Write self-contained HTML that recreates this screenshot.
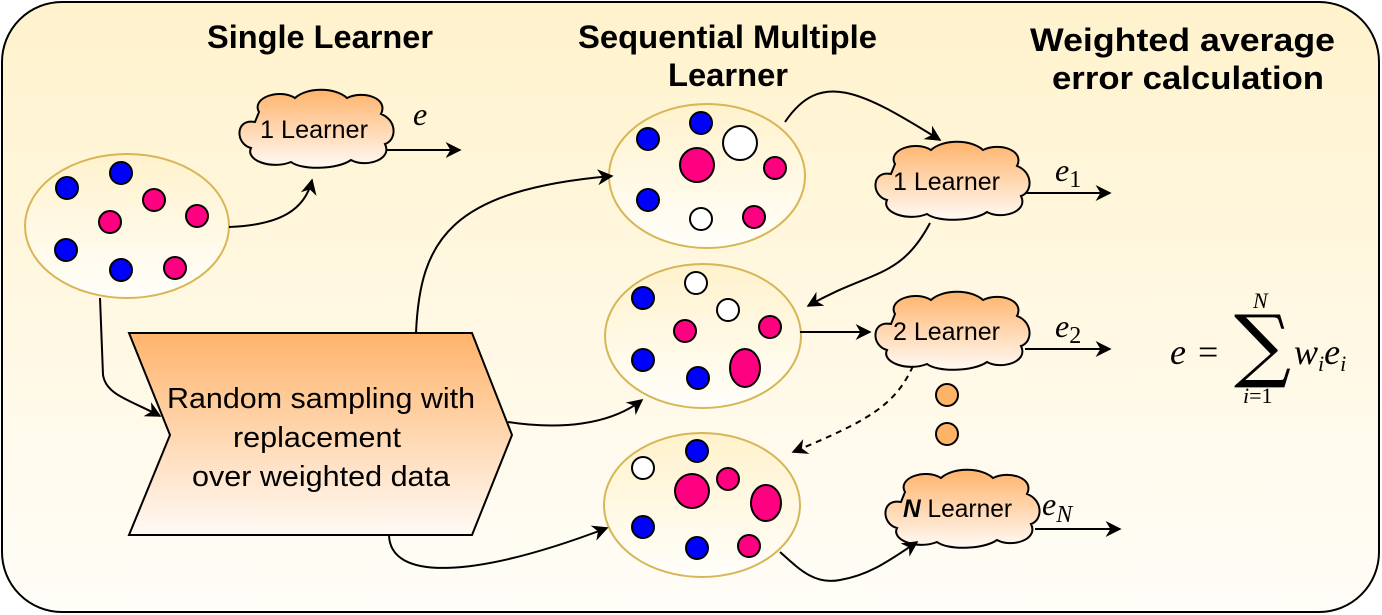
<!DOCTYPE html>
<html><head><meta charset="utf-8"><style>
html,body{margin:0;padding:0;background:#fff;}
svg{display:block;}
.t{font-family:"Liberation Sans",sans-serif;}
.m{font-family:"Liberation Serif",serif;font-style:italic;}
</style></head><body>
<svg width="1382" height="615" viewBox="0 0 1382 615" xmlns="http://www.w3.org/2000/svg">
<defs>
<linearGradient id="bg" x1="0" y1="0" x2="0" y2="1"><stop offset="0" stop-color="#fff2cc"/><stop offset="1" stop-color="#fffdf8"/></linearGradient>
<linearGradient id="el" x1="0" y1="0" x2="0" y2="1"><stop offset="0" stop-color="#fff2cc"/><stop offset="1" stop-color="#fffefa"/></linearGradient>
<linearGradient id="or" x1="0" y1="0" x2="0" y2="1"><stop offset="0" stop-color="#ffb36b"/><stop offset="1" stop-color="#fffaf5"/></linearGradient>
<marker id="ar" viewBox="0 0 10 10" refX="9" refY="5" markerWidth="20" markerHeight="16" markerUnits="userSpaceOnUse" orient="auto"><path d="M0,0 L10,5 L0,10 L3,5 Z" fill="#000"/></marker>
<g id="cloud"><path d="M22,22 C14,8 42,-2 58,8 C70,-3 98,-3 110,8 C126,0 152,8 144,24 C160,30 160,50 148,54 C156,70 128,78 114,70 C100,80 64,80 54,72 C34,80 8,70 14,58 C-2,54 -2,28 18,32 Z" fill="url(#or)" stroke="#000" stroke-width="2"/></g>
</defs>
<rect x="2" y="2" width="1377" height="610" rx="60" fill="url(#bg)" stroke="#000" stroke-width="2"/>
<g class="t" font-weight="bold" font-size="32" fill="#000">
<text x="207" y="48" textLength="226" lengthAdjust="spacingAndGlyphs">Single Learner</text>
<text x="578" y="48" textLength="299" lengthAdjust="spacingAndGlyphs">Sequential Multiple</text>
<text x="668" y="86" textLength="120" lengthAdjust="spacingAndGlyphs">Learner</text>
<text x="1030" y="51" textLength="305" lengthAdjust="spacingAndGlyphs">Weighted average</text>
<text x="1052" y="89" textLength="272" lengthAdjust="spacingAndGlyphs">error calculation</text>
</g>
<g fill="url(#el)" stroke="#d6b656" stroke-width="2">
<ellipse cx="127" cy="226" rx="102" ry="72"/>
<ellipse cx="707" cy="176" rx="98" ry="72"/>
<ellipse cx="703" cy="336" rx="98" ry="72"/>
<ellipse cx="702" cy="505" rx="98" ry="72"/>
</g>
<g stroke="#000" stroke-width="2">
<circle cx="67" cy="188" r="11" fill="#0000ff"/><circle cx="121" cy="173" r="11" fill="#0000ff"/>
<circle cx="66" cy="250" r="11" fill="#0000ff"/><circle cx="121" cy="270" r="11" fill="#0000ff"/>
<circle cx="154" cy="200" r="11" fill="#ff0080"/><circle cx="110" cy="222" r="11" fill="#ff0080"/>
<circle cx="197" cy="216" r="11" fill="#ff0080"/><circle cx="175" cy="268" r="11" fill="#ff0080"/>

<circle cx="648" cy="139" r="11" fill="#0000ff"/><circle cx="701" cy="123" r="11" fill="#0000ff"/>
<circle cx="740" cy="143" r="17" fill="#fff"/><circle cx="697" cy="165" r="17" fill="#ff0080"/>
<circle cx="775" cy="168" r="11" fill="#ff0080"/><circle cx="648" cy="200" r="11" fill="#0000ff"/>
<circle cx="701" cy="219" r="11" fill="#fff"/><circle cx="754" cy="217" r="11" fill="#ff0080"/>

<circle cx="643" cy="298" r="11" fill="#0000ff"/><circle cx="696" cy="283" r="11" fill="#fff"/>
<circle cx="728" cy="310" r="11" fill="#fff"/><circle cx="685" cy="331" r="11" fill="#ff0080"/>
<circle cx="770" cy="327" r="11" fill="#ff0080"/><circle cx="643" cy="360" r="11" fill="#0000ff"/>
<circle cx="698" cy="378" r="11" fill="#0000ff"/><ellipse cx="745" cy="368" rx="15" ry="19" fill="#ff0080"/>

<circle cx="643" cy="468" r="11" fill="#fff"/><circle cx="697" cy="451" r="11" fill="#0000ff"/>
<circle cx="692" cy="491" r="17" fill="#ff0080"/><circle cx="728" cy="479" r="11" fill="#ff0080"/>
<ellipse cx="766" cy="503" rx="15" ry="18" fill="#ff0080"/><circle cx="643" cy="527" r="11" fill="#0000ff"/>
<circle cx="697" cy="548" r="11" fill="#0000ff"/><circle cx="749" cy="546" r="11" fill="#ff0080"/>

<circle cx="947" cy="395" r="11" fill="#ffb366"/><circle cx="947" cy="434" r="11" fill="#ffb366"/>
</g>
<use href="#cloud" transform="translate(237,90)"/>
<use href="#cloud" transform="translate(873,142)"/>
<use href="#cloud" transform="translate(873,292)"/>
<use href="#cloud" transform="translate(883,470)"/>
<g class="t" font-size="25" fill="#000">
<text x="260" y="138" textLength="108" lengthAdjust="spacingAndGlyphs">1 Learner</text>
<text x="893" y="190" textLength="107" lengthAdjust="spacingAndGlyphs">1 Learner</text>
<text x="893" y="340" textLength="107" lengthAdjust="spacingAndGlyphs">2 Learner</text>
<text x="903" y="517" textLength="109" lengthAdjust="spacingAndGlyphs"><tspan font-weight="bold" font-style="italic">N</tspan> Learner</text>
</g>
<path d="M129,333 L472,333 L512,435 L472,535 L129,535 L170,435 Z" fill="url(#or)" stroke="#000" stroke-width="2"/>
<g class="t" font-size="29" fill="#000">
<text x="167" y="408" textLength="308" lengthAdjust="spacingAndGlyphs">Random sampling with</text>
<text x="233" y="447" textLength="168" lengthAdjust="spacingAndGlyphs">replacement</text>
<text x="192" y="486" textLength="258" lengthAdjust="spacingAndGlyphs">over weighted data</text>
</g>
<g fill="none" stroke="#000" stroke-width="2" marker-end="url(#ar)">
<path d="M387,150 L460,150"/>
<path d="M229,227 C280,225 305,210 312,180"/>
<path d="M1025,193 L1110,193"/>
<path d="M1025,349 L1110,349"/>
<path d="M1035,529 L1120,529"/>
<path d="M800,332 L870,332"/>
<path d="M785,122 C820,70 860,90 940,140"/>
<path d="M930,223 C900,280 870,270 808,306"/>
<path d="M913,366 C895,405 870,420 793,452" stroke-dasharray="6,5"/>
<path d="M780,552 C800,570 815,585 840,580 C870,575 890,560 917,542"/>
<path d="M100,298 L103,375 C106,395 130,400 160,416"/>
<path d="M416,333 C420,240 450,190 612,176"/>
<path d="M508,422 C560,430 610,425 642,400"/>
<path d="M389,535 C390,580 470,580 607,528"/>
</g>
<g class="m" fill="#000">
<text x="413" y="125" font-size="32">e</text>
<text x="1055" y="181" font-size="32">e<tspan font-style="normal" font-size="24" dy="6">1</tspan></text>
<text x="1055" y="337" font-size="32">e<tspan font-style="normal" font-size="24" dy="6">2</tspan></text>
<text x="1042" y="515" font-size="32">e<tspan font-size="24" dy="7">N</tspan></text>
<text x="1170" y="364" font-size="36">e</text>
<text x="1198" y="364" font-size="36" font-style="normal">=</text>
<text x="1234" y="372" font-size="80" font-style="normal" font-family="DejaVu Serif, serif">∑</text>
<text x="1253" y="308" font-size="22">N</text>
<text x="1243" y="403" font-size="22">i<tspan font-style="normal">=1</tspan></text>
<text x="1294" y="364" font-size="36">w<tspan font-size="22" dy="7">i</tspan><tspan font-size="36" dy="-7">e</tspan><tspan font-size="22" dy="7">i</tspan></text>
</g>
</svg>
</body></html>
